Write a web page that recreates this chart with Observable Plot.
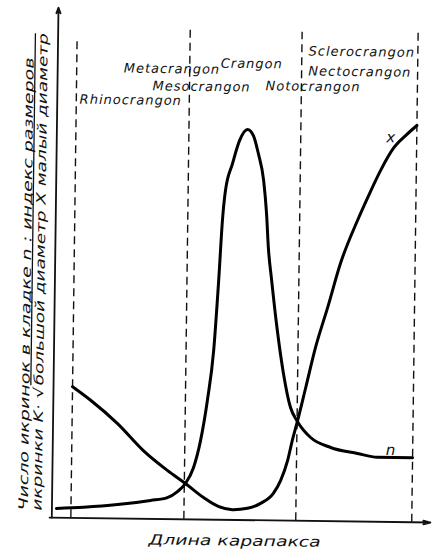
<!DOCTYPE html>
<html>
<head>
<meta charset="utf-8">
<script src="https://cdn.jsdelivr.net/npm/d3@7"></script>
<script src="https://cdn.jsdelivr.net/npm/@observablehq/plot@0.6"></script>
<style>
  html, body { margin: 0; padding: 0; background: #fff; }
  #chart { width: 434px; height: 550px; overflow: hidden; }
  #chart svg { display: block; }
</style>
</head>
<body>
<div id="chart"></div>
<script>
// Carapace length (arbitrary units) and curve values (arbitrary units)
const nLength = [1.2, 8.5, 17.6, 26.4, 30.9, 33.6, 35.7, 37.8, 39.6, 41.3, 42.8, 43.9, 44.7, 45.4, 47.2, 49.0, 51.1, 52.7, 54.1, 55.6, 56.5, 57.1, 58.1, 59.8, 61.6, 63.6, 65.5, 69.1, 74.5, 81.7, 87.1, 96.5];
const nValue  = [1.8, 2.1, 2.7, 3.6, 4.2, 5.4, 7.0, 10.1, 15.4, 23.3, 33.0, 46.7, 58.5, 64.3, 69.6, 74.1, 76.3, 75.1, 71.6, 66.4, 59.9, 53.3, 46.9, 37.1, 28.7, 22.1, 19.4, 16.3, 14.4, 13.3, 12.6, 12.6];
const xLength = [5.1, 10.0, 17.3, 24.3, 30.8, 35.7, 40.6, 44.6, 48.4, 52.4, 55.9, 59.3, 61.2, 63.0, 64.2, 65.5, 67.6, 70.1, 73.2, 76.5, 80.9, 83.8, 86.9, 90.3, 93.5, 96.5];
const xValue  = [25.6, 23.0, 18.5, 13.3, 9.5, 7.0, 4.3, 2.6, 2.0, 2.3, 3.3, 5.3, 7.8, 11.7, 15.7, 19.4, 26.0, 33.9, 41.7, 50.4, 58.8, 63.7, 68.6, 73.0, 75.5, 77.5];

// Genus boundaries along carapace length, and the top of each dashed boundary line
const boundaries   = [5.1, 35.4, 65.4, 96.5];
const boundaryTops = [93.2, 96.4, 95.4, 95.5];

// Genus names and where they are written
const genera   = ["Rhinocrangon", "Metacrangon", "Crangon", "Mesocrangon", "Notocrangon", "Sclerocrangon", "Nectocrangon"];
const generaX  = [6.0, 17.7, 43.7, 25.5, 55.8, 67.2, 67.2];
const generaY  = [80.9, 87.1, 88.3, 83.7, 84.0, 90.9, 87.0];

// Curve names
const curveNames = ["x", "n"];
const curveNameX = [89.5, 90.6];
const curveNameY = [75.1, 14.0];

// Axis titles
const yTitle1  = "Число икринок в кладке n : индекс размеров";
const yTitle2a = "икринки K· √";
const yTitle2b = "большой диаметр X малый диаметр";
const xTitle   = "Длина карапакса";

const FONT = "'DejaVu Sans', sans-serif";

const bounds = boundaries.map((b, i) => ({b, top: boundaryTops[i]}));
const nData = nLength.map((L, i) => ({L, v: nValue[i]}));
const xData = xLength.map((L, i) => ({L, v: xValue[i]}));
const genusData = genera.map((g, i) => ({g, x: generaX[i], y: generaY[i]}));
const curveLabelData = curveNames.map((c, i) => ({c, x: curveNameX[i], y: curveNameY[i]}));

const plot = Plot.plot({
  width: 434,
  height: 550,
  marginLeft: 54.5,
  marginRight: 6.5,
  marginTop: 7.2,
  marginBottom: 30.8,
  x: {domain: [0, 100], axis: null},
  y: {domain: [0, 100], axis: null},
  style: {background: "#fff", fontFamily: FONT, overflow: "visible"},
  marks: [
    // dashed genus boundaries
    Plot.ruleX(bounds, {x: "b", y1: 0, y2: "top", stroke: "#111", strokeWidth: 1.4, strokeDasharray: "8,5"}),
    // axes with arrows
    Plot.arrow([{x1: 0, y1: 0, x2: 0, y2: 99.6}], {x1: "x1", y1: "y1", x2: "x2", y2: "y2", stroke: "#111", strokeWidth: 1.8, headLength: 5, headAngle: 40}),
    Plot.arrow([{x1: -0.6, y1: 0, x2: 101.5, y2: 0}], {x1: "x1", y1: "y1", x2: "x2", y2: "y2", stroke: "#111", strokeWidth: 1.8, headLength: 6, headAngle: 30}),
    // curves
    Plot.line(nData, {x: "L", y: "v", curve: "monotone-x", stroke: "#000", strokeWidth: 3, strokeLinecap: "round", strokeLinejoin: "round"}),
    Plot.line(xData, {x: "L", y: "v", curve: "monotone-x", stroke: "#000", strokeWidth: 3, strokeLinecap: "round", strokeLinejoin: "round"}),
    // genus names
    Plot.text(genusData, {x: "x", y: "y", text: "g", textAnchor: "start", lineAnchor: "bottom", fontSize: 13, fontStyle: "italic", fill: "#111", ariaDescription: "genera"}),
    // curve names
    Plot.text(curveLabelData, {x: "x", y: "y", text: "c", fontSize: 15, fontStyle: "italic", fill: "#111"}),
    // y-axis title (two lines, rotated)
    Plot.text([yTitle1], {x: -7.6, y: 1.3, text: d => d, rotate: -90, textAnchor: "start", fontSize: 13, fontStyle: "italic", fill: "#111", ariaDescription: "ytitle1"}),
    Plot.text([yTitle2a], {x: -3.9, y: 1.3, text: d => d, rotate: -90, textAnchor: "start", fontSize: 13, fontStyle: "italic", fill: "#111", ariaDescription: "ytitle2a"}),
    Plot.text([yTitle2b], {x: -3.9, y: 25.8, text: d => d, rotate: -90, textAnchor: "start", fontSize: 13, fontStyle: "italic", fill: "#111", ariaDescription: "ytitle2b"}),
    // x-axis title
    Plot.text([xTitle], {x: 49.1, y: -5.0, text: d => d, lineAnchor: "bottom", fontSize: 14, fontStyle: "italic", fill: "#111", ariaDescription: "xtitle"})
  ]
});

const svg = d3.select(plot);
function fitText(desc, len) {
  svg.selectAll(`g[aria-description="${desc}"] text`)
    .attr("textLength", len)
    .attr("lengthAdjust", "spacingAndGlyphs");
}
svg.selectAll('g[aria-description="genera"] text').style("letter-spacing", "1px");
fitText("ytitle1", 453);
fitText("ytitle2a", 124);
fitText("ytitle2b", 352);
fitText("xtitle", 172);
svg.selectAll('g[aria-description="ytitle2b"] text').style("text-decoration", "overline");

// the scanned figure is slightly turned
plot.style.transformOrigin = "217px 275px";
plot.style.transform = "rotate(0.75deg)";

document.getElementById("chart").appendChild(plot);
</script>
</body>
</html>
